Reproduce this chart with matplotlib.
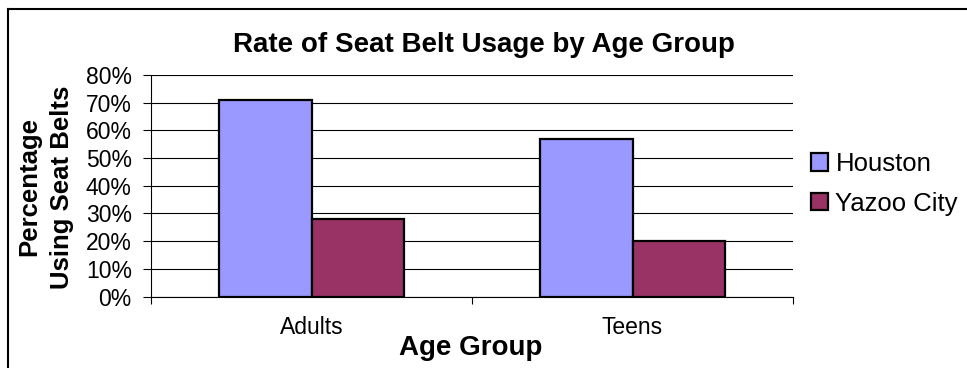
#!/usr/bin/env python3
import matplotlib
matplotlib.use("Agg")
import matplotlib.pyplot as plt
import matplotlib.ticker as mticker
import numpy as np
from matplotlib.lines import Line2D

plt.rcParams["font.family"] = ["Liberation Sans", "DejaVu Sans"]

# data
groups = ["Adults", "Teens"]
series = ["Houston", "Yazoo City"]
houston = [0.71, 0.57]
yazoo = [0.28, 0.20]
colors = ["#9999FF", "#993366"]

W, H = 967, 368
fig = plt.figure(figsize=(W / 100, H / 100), dpi=100)
ax = fig.add_axes([151 / W, 1 - 296.5 / H, 642 / W, 221.5 / H])

x = np.arange(len(groups))
bw = 0.287
for vals, off, col, lab in [(houston, -bw / 2, colors[0], series[0]),
                            (yazoo, bw / 2, colors[1], series[1])]:
    ax.bar(x + off, vals, bw, color=col, edgecolor="black", linewidth=1.6,
           label=lab, zorder=3)

ax.set_xlim(-0.5, 1.5)
ax.set_ylim(0, 0.8)
ax.yaxis.set_major_locator(mticker.MultipleLocator(0.1))
ax.yaxis.set_major_formatter(mticker.PercentFormatter(1.0, decimals=0))
ax.grid(axis="y", color="black", linewidth=0.8, zorder=0)
ax.set_axisbelow(True)

ax.set_xticks(x)
ax.set_xticklabels(groups, fontsize=16.5)
ax.set_xticks([-0.5, 0.5, 1.5], minor=True)
ax.tick_params(axis="x", which="major", length=0, pad=14)
ax.tick_params(axis="x", which="minor", length=5, width=0.8, color="black")
ax.tick_params(axis="y", length=5.8, width=0.8, pad=8, labelsize=16.5)

for s in ["top", "right"]:
    ax.spines[s].set_visible(False)
for s in ["left", "bottom"]:
    ax.spines[s].set_linewidth(0.8)

fig.text(484 / W, 1 - 52 / H, "Rate of Seat Belt Usage by Age Group",
         ha="center", va="baseline", fontsize=20, fontweight="bold")
fig.text(471 / W, 1 - 355 / H, "Age Group", ha="center", va="baseline",
         fontsize=20, fontweight="bold")
fig.text(46 / W, 1 - 187 / H, "Percentage\nUsing Seat Belts", rotation=90,
         ha="center", va="center", multialignment="center",
         fontsize=18.5, fontweight="bold", linespacing=1.45)

fig.legend(loc="upper left", bbox_to_anchor=(811 / W, 1 - 152 / H),
           frameon=False, fontsize=18.5, handlelength=0.65, handleheight=0.65,
           handletextpad=0.3, labelspacing=0.62, borderpad=0, borderaxespad=0)

# chart area border (left and top edges only visible)
fig.add_artist(Line2D([8 / W, 8 / W], [0, 1 - 9 / H], color="black",
                      linewidth=1.5, transform=fig.transFigure))
fig.add_artist(Line2D([8 / W, 1], [1 - 9 / H, 1 - 9 / H], color="black",
                      linewidth=1.5, transform=fig.transFigure))

fig.savefig("out.png", dpi=100)
